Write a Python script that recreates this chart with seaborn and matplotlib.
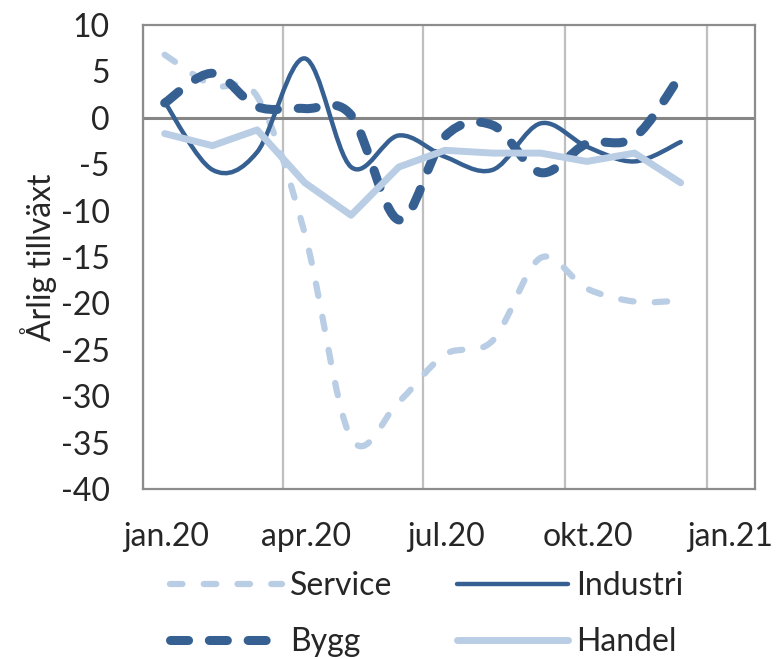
import numpy as np
import pandas as pd
import matplotlib
matplotlib.use("Agg")
import matplotlib.pyplot as plt
import matplotlib.dates as mdates
from matplotlib.path import Path
from matplotlib.patches import PathPatch
from matplotlib.lines import Line2D
import seaborn as sns

# ==========================================================
# DATA (annual growth, monthly 2020)
# ==========================================================

months = pd.date_range("2020-01-01", periods=12, freq="MS") + pd.Timedelta(days=14)

service = [6.8, 3.5, 2.3, -12.5, -34.5, -30.6, -25.5, -24.0, -15.1, -18.4, -19.8, -19.7]
industri = [1.7, -5.6, -3.7, 6.4, -5.3, -1.9, -4.2, -5.6, -0.6, -3.1, -4.7, -2.6]
bygg = [1.6, 4.8, 1.2, 1.0, 0.3, -11.0, -2.0, -0.8, -5.9, -2.8, -2.1, 4.6]
handel = [-1.7, -3.0, -1.3, -7.0, -10.5, -5.3, -3.5, -3.8, -3.8, -4.7, -3.8, -7.0]

tick_dates = pd.to_datetime(["2020-01-01", "2020-04-01", "2020-07-01", "2020-10-01", "2021-01-01"])
tick_labels = ["jan.20", "apr.20", "jul.20", "okt.20", "jan.21"]
y_ticks = list(range(-40, 11, 5))

# ==========================================================
# STYLE
# ==========================================================

DARK = "#366092"
LIGHT = "#b9cde5"

sns.set_style("white")
plt.rcParams["font.family"] = ["Lato", "DejaVu Sans"]
plt.rcParams["axes.unicode_minus"] = False
FS = 23

styles = {
    "Service": dict(color=LIGHT, lw=4.5, ls=(0, (2.0, 3.4))),
    "Industri": dict(color=DARK, lw=3.2, ls="-"),
    "Bygg": dict(color=DARK, lw=6.5, ls=(0, (2.0, 2.3))),
    "Handel": dict(color=LIGHT, lw=5.0, ls="-"),
}


def smooth_path(x, y):
    # bezier through the points, like excel "smoothed line"
    n = len(x)
    verts = [(x[0], y[0])]
    codes = [Path.MOVETO]
    for i in range(n - 1):
        a = max(i - 1, 0)
        b = min(i + 2, n - 1)
        c1 = (x[i] + (x[i + 1] - x[a]) / 6, y[i] + (y[i + 1] - y[a]) / 6)
        c2 = (x[i + 1] - (x[b] - x[i]) / 6, y[i + 1] - (y[b] - y[i]) / 6)
        verts += [c1, c2, (x[i + 1], y[i + 1])]
        codes += [Path.CURVE4] * 3
    return Path(verts, codes)


# ==========================================================
# PLOT
# ==========================================================

fig, ax = plt.subplots(figsize=(7.82, 6.59), dpi=100)
fig.subplots_adjust(left=0.183, right=0.965, top=0.962, bottom=0.258)

xnum = mdates.date2num(months)
for name, vals in [("Service", service), ("Industri", industri), ("Bygg", bygg)]:
    st = styles[name]
    patch = PathPatch(smooth_path(xnum, np.array(vals, dtype=float)), fill=False,
                      edgecolor=st["color"], lw=st["lw"], linestyle=st["ls"],
                      capstyle="round", joinstyle="round", zorder=3)
    ax.add_patch(patch)

df_handel = pd.DataFrame({"month": months, "value": handel})
sns.lineplot(data=df_handel, x="month", y="value", ax=ax, color=LIGHT,
             lw=styles["Handel"]["lw"], solid_capstyle="round", zorder=4)

ax.axhline(0, color="#868686", lw=2.2, zorder=2)

ax.set_xlim(pd.Timestamp("2020-01-01"), pd.Timestamp("2021-02-01"))
ax.set_ylim(-40, 10)
ax.set_yticks(y_ticks)
ax.set_yticklabels([str(v) for v in y_ticks], fontsize=FS)

ax.set_xticks(tick_dates)
ax.set_xticklabels([""] * len(tick_dates))
ax.set_xticks(tick_dates + pd.Timedelta(days=15), minor=True)
ax.set_xticklabels(tick_labels, minor=True, fontsize=FS)
ax.tick_params(axis="x", which="both", length=0)
ax.tick_params(axis="x", which="minor", pad=24)
ax.tick_params(axis="y", length=0, pad=24)

ax.xaxis.grid(True, which="major", color="#bfbfbf", lw=1.6)
ax.yaxis.grid(False)
for sp in ax.spines.values():
    sp.set_color("#8c8c8c")
    sp.set_linewidth(1.6)

ax.set_xlabel("")
ax.set_ylabel("Årlig tillväxt", fontsize=FS)
ax.yaxis.set_label_coords(-0.14, 0.5)

handles = []
for name in ["Service", "Bygg", "Industri", "Handel"]:
    st = styles[name]
    handles.append(Line2D([0], [0], color=st["color"], lw=st["lw"], ls=st["ls"],
                          dash_capstyle="round", solid_capstyle="round", label=name))

fig.legend(handles=handles, ncol=2, loc="center", bbox_to_anchor=(427 / 782, 1 - 614 / 659),
           frameon=False, fontsize=FS, handlelength=3.5, handletextpad=0.25,
           columnspacing=2.0, labelspacing=0.8)

plt.savefig("out.png", dpi=100)
